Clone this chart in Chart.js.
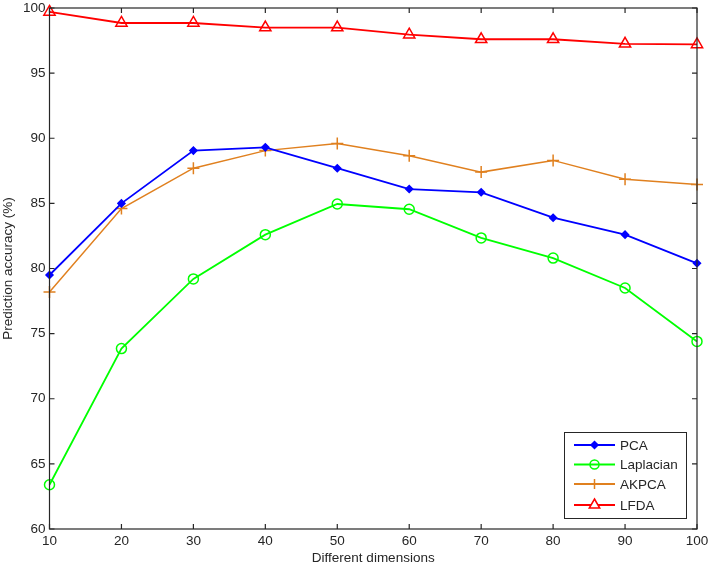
<!DOCTYPE html>
<html>
<head>
<meta charset="utf-8">
<script src="https://cdn.jsdelivr.net/npm/chart.js@4.4.0/dist/chart.umd.min.js"></script>
<style>
html,body{margin:0;padding:0;background:#fff;}
#wrap{width:709px;height:564px;position:relative;}
</style>
</head>
<body>
<div id="wrap"><canvas id="c" width="709" height="564"></canvas></div>
<script>
const dimensions = [10, 20, 30, 40, 50, 60, 70, 80, 90, 100];
const pcaValues = [79.5, 85.0, 89.05, 89.3, 87.7, 86.1, 85.85, 83.9, 82.6, 80.4];
const laplacianValues = [63.4, 73.85, 79.2, 82.6, 84.95, 84.55, 82.35, 80.8, 78.5, 74.4];
const akpcaValues = [78.2, 84.6, 87.7, 89.05, 89.6, 88.65, 87.4, 88.3, 86.85, 86.45];
const lfdaValues = [99.7, 98.85, 98.85, 98.5, 98.5, 97.95, 97.6, 97.6, 97.25, 97.2];
const yTicks = [60, 65, 70, 75, 80, 85, 90, 95, 100];
const xTicks = [10, 20, 30, 40, 50, 60, 70, 80, 90, 100];
const seriesNames = ['PCA', 'Laplacian', 'AKPCA', 'LFDA'];

const toXY = vals => dimensions.map((d, i) => ({x: d, y: vals[i]}));
const AX = '#262626';
const FONT = '"Liberation Sans", Arial, sans-serif';

const styles = [
  {color: '#0000ff', pointStyle: 'rectRot', radius: 3.5, fill: true},
  {color: '#00ff00', pointStyle: 'circle', radius: 5, fill: false},
  {color: '#e0801f', pointStyle: 'cross', radius: 6, fill: false},
  {color: '#ff0000', pointStyle: 'triangle', radius: 6.5, fill: false}
];
const allVals = [pcaValues, laplacianValues, akpcaValues, lfdaValues];

const datasets = allVals.map((v, i) => ({
  label: seriesNames[i],
  data: toXY(v),
  borderColor: styles[i].color,
  backgroundColor: styles[i].fill ? styles[i].color : 'rgba(0,0,0,0)',
  borderWidth: i === 2 ? 1.5 : 1.8,
  pointStyle: styles[i].pointStyle,
  pointRadius: styles[i].radius,
  pointBorderWidth: 1.5,
  pointBorderColor: styles[i].color,
  pointBackgroundColor: styles[i].fill ? styles[i].color : 'rgba(0,0,0,0)',
  tension: 0,
  clip: false
}));

const boxPlugin = {
  id: 'boxPlugin',
  afterDatasetsDraw(chart) {
    const ctx = chart.ctx;
    const a = chart.chartArea;
    const xs = chart.scales.x, ys = chart.scales.y;
    ctx.save();
    ctx.strokeStyle = AX;
    ctx.lineWidth = 1.2;
    ctx.strokeRect(a.left, a.top, a.right - a.left, a.bottom - a.top);
    const tl = 5;
    ctx.beginPath();
    xTicks.forEach(t => {
      const px = xs.getPixelForValue(t);
      ctx.moveTo(px, a.bottom); ctx.lineTo(px, a.bottom - tl);
      ctx.moveTo(px, a.top); ctx.lineTo(px, a.top + tl);
    });
    yTicks.forEach(t => {
      const py = ys.getPixelForValue(t);
      ctx.moveTo(a.left, py); ctx.lineTo(a.left + tl, py);
      ctx.moveTo(a.right, py); ctx.lineTo(a.right - tl, py);
    });
    ctx.stroke();

    // legend
    const lx = 564, ly = 432, lw = 122, lh = 86;
    ctx.fillStyle = '#fff';
    ctx.fillRect(lx, ly, lw, lh);
    ctx.strokeStyle = AX;
    ctx.lineWidth = 1;
    ctx.strokeRect(lx + 0.5, ly + 0.5, lw, lh);
    ctx.font = '13.5px ' + FONT;
    ctx.textBaseline = 'middle';
    ctx.textAlign = 'left';
    const rows = [445, 464.5, 484, 505];
    seriesNames.forEach((name, i) => {
      const y = rows[i];
      const st = styles[i];
      ctx.strokeStyle = st.color;
      ctx.lineWidth = 1.8;
      ctx.beginPath();
      ctx.moveTo(574, y); ctx.lineTo(615, y);
      ctx.stroke();
      const cx = 594.5;
      ctx.lineWidth = 1.5;
      ctx.beginPath();
      if (st.pointStyle === 'rectRot') {
        const r = 3.5;
        ctx.moveTo(cx, y - r); ctx.lineTo(cx + r, y); ctx.lineTo(cx, y + r); ctx.lineTo(cx - r, y); ctx.closePath();
        ctx.fillStyle = st.color; ctx.fill(); ctx.stroke();
      } else if (st.pointStyle === 'circle') {
        ctx.arc(cx, y, 4.5, 0, Math.PI * 2); ctx.stroke();
      } else if (st.pointStyle === 'cross') {
        ctx.moveTo(cx, y - 5); ctx.lineTo(cx, y + 5);
        ctx.moveTo(cx - 5, y); ctx.lineTo(cx + 5, y); ctx.stroke();
      } else {
        const r = 6;
        ctx.moveTo(cx, y - r); ctx.lineTo(cx + r * 0.87, y + r * 0.5); ctx.lineTo(cx - r * 0.87, y + r * 0.5); ctx.closePath();
        ctx.fillStyle = '#fff'; ctx.fill(); ctx.stroke();
      }
      ctx.fillStyle = AX;
      ctx.fillText(name, 620, y + 1);
    });
    ctx.restore();
  }
};

new Chart(document.getElementById('c'), {
  type: 'line',
  data: {datasets},
  options: {
    responsive: false,
    animation: false,
    layout: {padding: {top: 7, right: 12, left: 0, bottom: 0}},
    plugins: {legend: {display: false}, tooltip: {enabled: false}},
    scales: {
      x: {
        type: 'linear', min: 10, max: 100,
        afterBuildTicks: s => { s.ticks = xTicks.map(v => ({value: v})); },
        afterFit: s => { s.height = 35; s.paddingLeft = 0; s.paddingRight = 0; },
        grid: {display: false, drawTicks: false},
        border: {display: false},
        ticks: {color: AX, font: {family: FONT, size: 13.5}, padding: 4},
        title: {display: true, text: 'Different dimensions', color: AX, font: {family: FONT, size: 13.5}, padding: {top: 0, bottom: -2}}
      },
      y: {
        type: 'linear', min: 60, max: 100,
        afterBuildTicks: s => { s.ticks = yTicks.map(v => ({value: v})); },
        afterFit: s => { s.width = 49.5; s.paddingTop = 0; s.paddingBottom = 0; },
        grid: {display: false, drawTicks: false},
        border: {display: false},
        ticks: {color: AX, font: {family: FONT, size: 13.5}, padding: 4},
        title: {display: true, text: 'Prediction accuracy (%)', color: AX, font: {family: FONT, size: 13.5}, padding: {top: 0, bottom: 0}}
      }
    }
  },
  plugins: [boxPlugin]
});
</script>
</body>
</html>
